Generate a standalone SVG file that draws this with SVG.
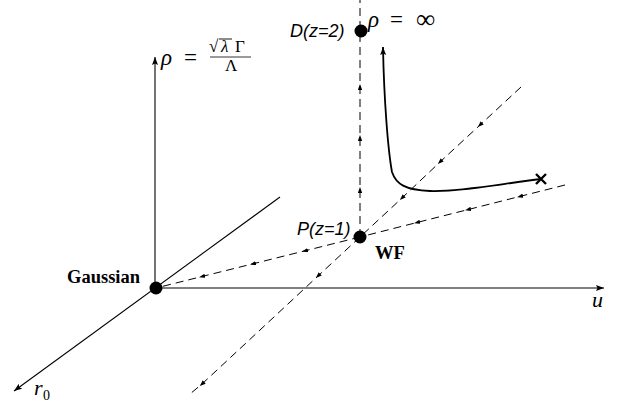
<svg xmlns="http://www.w3.org/2000/svg" width="623" height="408" viewBox="0 0 623 408">
<style>
.axis{stroke:#000;stroke-width:1.1;fill:none}
.dash{stroke:#000;stroke-width:1;fill:none;stroke-dasharray:8,5}
.flow{stroke:#000;stroke-width:1.8;fill:none}
.dot{fill:#000}
.lbl{font-family:"Liberation Sans",Arial,sans-serif;font-style:italic;font-size:18px}
.bold{font-family:"Liberation Serif","Times New Roman",serif;font-weight:bold}
.math{font-family:"Liberation Serif","Times New Roman",serif;font-style:italic}
.rm{font-family:"Liberation Serif","Times New Roman",serif}
</style>
<defs>
<marker id="ax" markerUnits="userSpaceOnUse" markerWidth="10" markerHeight="8" refX="8" refY="3" orient="auto"><path d="M0,0 L8,3 L0,6 L1.5,3 z" fill="#000"/></marker>
<marker id="fl" markerUnits="userSpaceOnUse" markerWidth="8" markerHeight="6" refX="3" refY="2.2" orient="auto"><path d="M0,0 L6,2.2 L0,4.4 z" fill="#000"/></marker>
</defs>
<g id="axes">
<line class="axis" x1="155" y1="288" x2="155" y2="57" marker-end="url(#ax)"/>
<line class="axis" x1="155" y1="288" x2="604" y2="288" marker-end="url(#ax)"/>
<line class="axis" x1="280" y1="197" x2="14" y2="391" marker-end="url(#ax)"/>
</g>
<g id="connectors">
<path class="dash" d="M360,237 L360,190 L360,138 L360,87 L360,0" marker-mid="url(#fl)"/>
<path class="dash" d="M360,237 L305,250.8 L253,263.8 L202,276.5 L156,288" marker-mid="url(#fl)"/>
<path class="dash" d="M565,185 L520,196.4 L468,209.6 L417,222.5 L360,237" marker-mid="url(#fl)"/>
<path class="dash" d="M521,87 L480,125 L440,162 L402,198 L360,237" marker-mid="url(#fl)"/>
<path class="dash" d="M360,237 L318,276 L202,384 L190,394" marker-mid="url(#fl)"/>
<path class="flow" d="M541,179 C500,184 460,192 430,191 C405,190 396,184 392,172 C388,150 384,100 383,47" marker-end="url(#ax)"/>
<path d="M536,174 L546,184 M546,174 L536,184" stroke="#000" stroke-width="2.4"/>
</g>
<g id="gaussian">
<circle class="dot" cx="156" cy="288" r="6.5"/>
<text class="bold" x="67" y="283" font-size="18.5">Gaussian</text>
</g>
<g id="wf">
<circle class="dot" cx="360" cy="237" r="6.5"/>
<text class="lbl" x="297" y="235">P(z=1)</text>
<text class="bold" x="375" y="259" font-size="18.5">WF</text>
</g>
<g id="d">
<circle class="dot" cx="361" cy="31" r="6.5"/>
<text class="lbl" x="290" y="37">D(z=2)</text>
<text class="math" x="368" y="27" font-size="23">ρ</text>
<text class="rm" x="390" y="27" font-size="23">=</text>
<text class="rm" x="416" y="28" font-size="27">∞</text>
</g>
<g id="rho-label">
<text class="math" x="161" y="65" font-size="23">ρ</text>
<text class="rm" x="184" y="65" font-size="23">=</text>
<text class="rm" x="209" y="52" font-size="17">√</text>
<line x1="219" y1="39" x2="232" y2="39" stroke="#000" stroke-width="0.9"/>
<text class="math" x="221" y="52" font-size="17">λ</text>
<text class="rm" x="235" y="52" font-size="17">Γ</text>
<line x1="210" y1="57" x2="251" y2="57" stroke="#000" stroke-width="0.8"/>
<text class="rm" x="225" y="71" font-size="17">Λ</text>
</g>
<g id="u-label"><text class="math" x="592" y="307" font-size="22">u</text></g>
<g id="r0-label"><text class="math" x="34" y="395" font-size="22">r</text><text class="rm" x="43" y="400" font-size="14">0</text></g>
</svg>
